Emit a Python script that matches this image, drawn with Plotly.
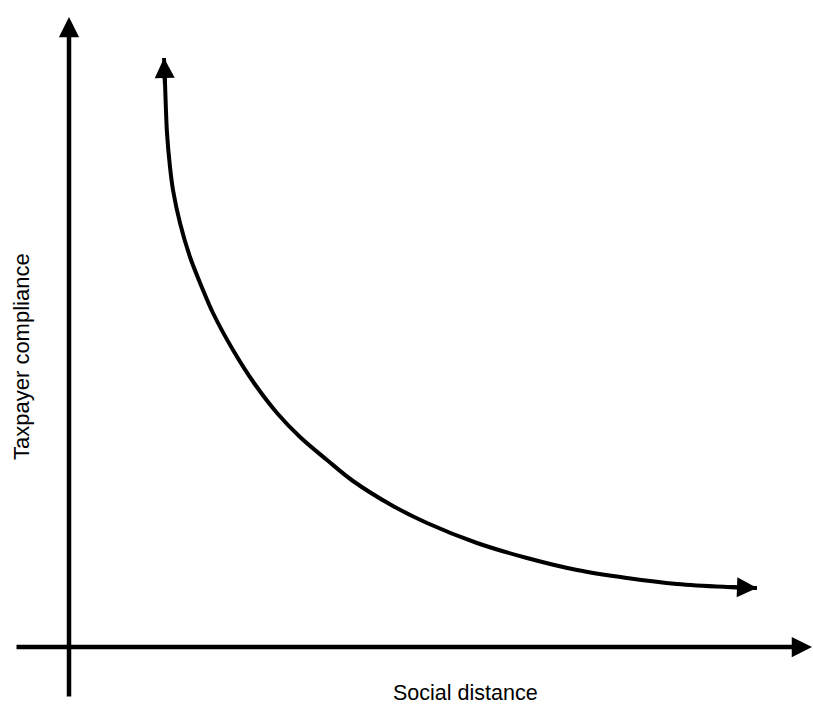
import plotly.graph_objects as go

# Curve data (conceptual units: origin at axis crossing)
social_distance = [0.95, 0.96, 0.98, 1.01, 1.04, 1.11, 1.21, 1.34, 1.44, 1.64, 1.85, 2.08,
                   2.31, 2.58, 2.84, 3.24, 3.58, 4.08, 4.58, 5.08, 5.58, 6.08, 6.58, 6.88]
compliance = [5.89, 5.64, 5.14, 4.80, 4.57, 4.24, 3.90, 3.57, 3.34, 2.97, 2.64, 2.34,
              2.10, 1.87, 1.66, 1.41, 1.24, 1.04, 0.89, 0.77, 0.69, 0.63, 0.60, 0.59]

x_label = "Social distance"
y_label = "Taxpayer compliance"

X_RANGE = [-0.69, 7.44]
Y_RANGE = [-0.59, 6.47]

fig = go.Figure()

fig.add_trace(go.Scatter(
    x=social_distance, y=compliance, mode="lines",
    line=dict(color="black", width=4, shape="spline", smoothing=1.0),
    hoverinfo="skip", showlegend=False,
))

# Axis arrows
fig.add_annotation(x=0, y=6.30, ax=0, ay=-0.51, xref="x", yref="y", axref="x", ayref="y",
                   showarrow=True, arrowhead=2, arrowsize=0.9, arrowwidth=4.5, arrowcolor="black", text="")
fig.add_annotation(x=7.43, y=0, ax=-0.54, ay=0, xref="x", yref="y", axref="x", ayref="y",
                   showarrow=True, arrowhead=2, arrowsize=0.9, arrowwidth=4.5, arrowcolor="black", text="")

# Curve end arrowheads
fig.add_annotation(x=social_distance[0], y=compliance[0], ax=1, ay=28,
                   showarrow=True, arrowhead=2, arrowsize=1, arrowwidth=4, arrowcolor="black", text="")
fig.add_annotation(x=social_distance[-1], y=compliance[-1], ax=-30, ay=-1,
                   showarrow=True, arrowhead=2, arrowsize=1, arrowwidth=4, arrowcolor="black", text="")

# Labels
fig.add_annotation(x=465, y=693, xref="paper", yref="paper", text=x_label, showarrow=False,
                   xanchor="center", yanchor="middle",
                   font=dict(family="Liberation Sans, Arial", size=21.5, color="black"))
fig.add_annotation(x=21, y=357, xref="paper", yref="paper", text=y_label, showarrow=False, textangle=-90,
                   xanchor="center", yanchor="middle",
                   font=dict(family="Liberation Sans, Arial", size=22, color="black"))

fig.update_layout(
    width=813, height=706,
    margin=dict(l=0, r=0, t=0, b=0),
    paper_bgcolor="white", plot_bgcolor="white",
    xaxis=dict(range=X_RANGE, visible=False, fixedrange=True),
    yaxis=dict(range=Y_RANGE, visible=False, fixedrange=True),
)

# Convert label positions from pixels to paper fractions
for ann in fig.layout.annotations:
    if ann.xref == "paper":
        ann.x = ann.x / 813
        ann.y = 1 - ann.y / 706

fig.write_html("out.html", config={"displayModeBar": False},
               post_script="document.body.style.margin='0px';")
